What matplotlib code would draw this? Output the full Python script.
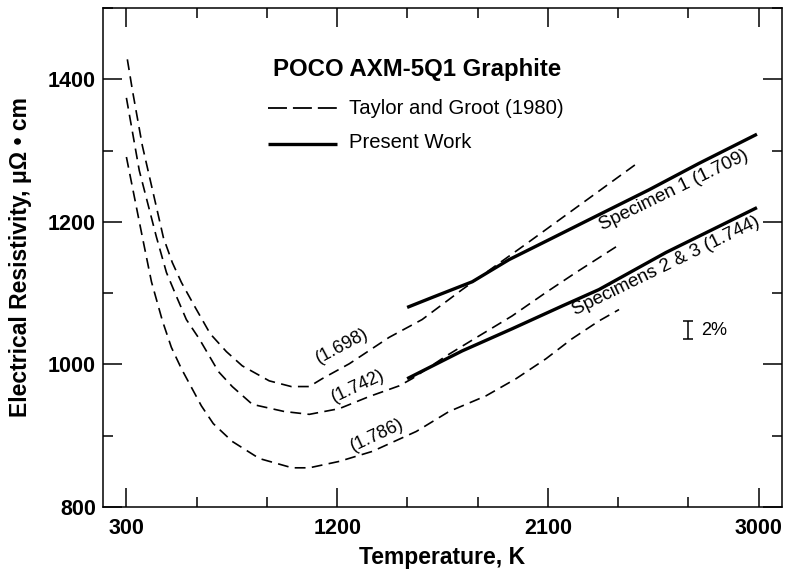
import matplotlib
matplotlib.use("Agg")
import matplotlib.pyplot as plt
from matplotlib.ticker import FixedLocator, MultipleLocator

plt.rcParams['font.family'] = ['Liberation Sans', 'DejaVu Sans']

# Taylor and Groot (1980), dashed curves
t_1698 = [304, 326, 368, 458, 496, 535, 594, 658, 727, 795, 910, 1004, 1081, 1136, 1252, 1422, 1563, 1734, 2007, 2246, 2489]
r_1698 = [1428, 1384, 1307, 1178, 1143, 1115, 1080, 1043, 1018, 998, 977, 969, 969, 980, 1001, 1038, 1063, 1105, 1169, 1226, 1284]

t_1742 = [300, 355, 428, 471, 513, 556, 611, 693, 752, 838, 974, 1081, 1209, 1337, 1465, 1520, 1666, 1806, 1947, 2092, 2220, 2391]
r_1742 = [1374, 1272, 1179, 1129, 1096, 1063, 1036, 990, 969, 944, 934, 930, 938, 955, 970, 980, 1012, 1040, 1068, 1101, 1129, 1165]

t_1786 = [300, 368, 407, 454, 492, 535, 620, 671, 752, 868, 1008, 1081, 1209, 1350, 1538, 1678, 1836, 1964, 2092, 2203, 2318, 2404]
r_1786 = [1291, 1179, 1116, 1061, 1024, 994, 942, 917, 892, 868, 855, 855, 864, 878, 906, 934, 956, 980, 1008, 1036, 1061, 1077]

# Present work, solid curves
t_spec1 = [1499, 1606, 1777, 1934, 2105, 2318, 2532, 2745, 2993]
r_spec1 = [1080, 1094, 1116, 1147, 1175, 1210, 1245, 1282, 1323]

t_spec23 = [1499, 1734, 1947, 2161, 2318, 2604, 2993]
r_spec23 = [980, 1019, 1050, 1082, 1105, 1157, 1220]

x_major = [300, 1200, 2100, 3000]
y_major = [800, 1000, 1200, 1400]

fig = plt.figure(figsize=(7.88, 5.78), dpi=100)
ax = fig.add_axes([0.1307, 0.1228, 0.8617, 0.8633])

dash = dict(color='black', lw=1.2, dashes=(6.5, 3.8))
ax.plot(t_1698, r_1698, **dash)
ax.plot(t_1742, r_1742, **dash)
ax.plot(t_1786, r_1786, **dash)

ax.plot(t_spec1, r_spec1, color='black', lw=2.4, solid_capstyle='butt')
ax.plot(t_spec23, r_spec23, color='black', lw=2.4, solid_capstyle='butt')

# curve labels
lab = dict(ha='center', va='center', rotation_mode='anchor')
ax.text(1222, 1026, '(1.698)', rotation=28, fontsize=13, **lab)
ax.text(1290, 970, '(1.742)', rotation=25, fontsize=13, **lab)
ax.text(1371, 901, '(1.786)', rotation=25, fontsize=13, **lab)
ax.text(2638, 1244, 'Specimen 1 (1.709)', rotation=26, fontsize=13.5, **lab)
ax.text(2604, 1138, 'Specimens 2 & 3 (1.744)', rotation=26, fontsize=13.5, **lab)

# 2% scale bar
ax.errorbar([2700], [1048], yerr=[12.5], fmt='none', ecolor='black',
            elinewidth=1.1, capsize=3.5, capthick=1.1)
ax.text(2755, 1048, '2%', fontsize=13, ha='left', va='center')

# legend block
ax.text(0.2504, 0.876, 'POCO AXM-5Q1 Graphite', transform=ax.transAxes,
        fontsize=17.3, fontweight='bold', ha='left', va='center')
ax.plot([0.243, 0.3446], [0.7996, 0.7996], transform=ax.transAxes,
        color='black', lw=1.3, dashes=(10.5, 3.3))
ax.text(0.3623, 0.798, 'Taylor and Groot (1980)', transform=ax.transAxes,
        fontsize=14.6, ha='left', va='center')
ax.plot([0.243, 0.3446], [0.7285, 0.7285], transform=ax.transAxes,
        color='black', lw=2.4, solid_capstyle='butt')
ax.text(0.3623, 0.7315, 'Present Work', transform=ax.transAxes,
        fontsize=14.6, ha='left', va='center')

ax.set_xlim(200, 3100)
ax.set_ylim(800, 1500)
ax.xaxis.set_major_locator(FixedLocator(x_major))
ax.xaxis.set_minor_locator(MultipleLocator(300))
ax.yaxis.set_major_locator(FixedLocator(y_major))
ax.yaxis.set_minor_locator(MultipleLocator(100))

ax.tick_params(which='both', direction='in', top=True, right=True, width=1.1)
ax.tick_params(which='major', length=14, labelsize=15.5)
ax.tick_params(which='minor', length=7.5)
ax.tick_params(axis='x', which='major', pad=8)
ax.tick_params(axis='y', which='major', pad=5)
for lbl in ax.get_xticklabels() + ax.get_yticklabels():
    lbl.set_fontweight('bold')
for sp in ax.spines.values():
    sp.set_linewidth(1.1)

ax.set_xlabel('Temperature, K', fontsize=16.5, fontweight='bold', va='center')
ax.xaxis.set_label_coords(0.5, -0.101)
ax.set_ylabel('Electrical Resistivity, μΩ • cm', fontsize=16.5, fontweight='bold', va='center')
ax.yaxis.set_label_coords(-0.122, 0.5)

fig.savefig('out.png', dpi=100)
